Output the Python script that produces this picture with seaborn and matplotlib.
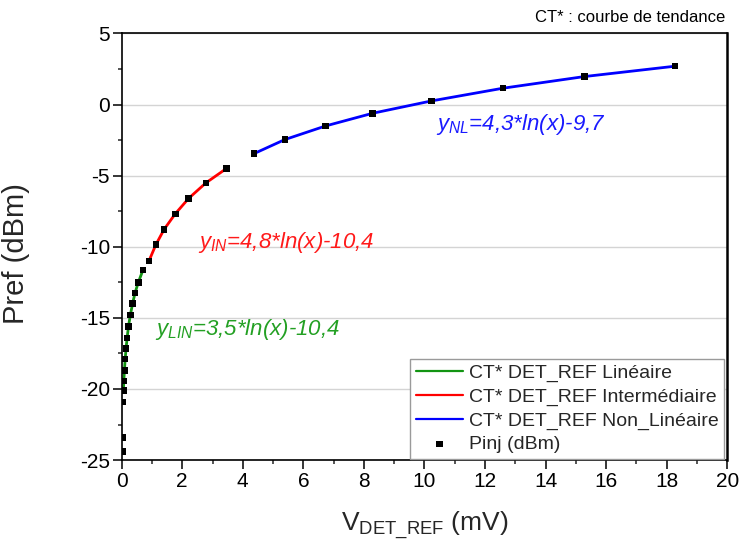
import numpy as np
import pandas as pd
import matplotlib
matplotlib.use("Agg")
import matplotlib.pyplot as plt
from matplotlib.ticker import MultipleLocator
import seaborn as sns

# measured points: V_DET_REF (mV) / Pinj (dBm)
v_det_ref = [0.02, 0.025, 0.04, 0.055, 0.07, 0.09, 0.115, 0.145, 0.18, 0.225,
             0.285, 0.36, 0.44, 0.55, 0.70,
             0.90, 1.13, 1.40, 1.77, 2.21, 2.78, 3.47,
             4.37, 5.39, 6.74, 8.29, 10.24, 12.59, 15.28, 18.28]
p_inj = [-24.4, -23.4, -20.9, -20.1, -19.45, -18.7, -17.9, -17.15, -16.4, -15.6,
         -14.8, -14.0, -13.25, -12.5, -11.65,
         -11.0, -9.85, -8.78, -7.68, -6.6, -5.51, -4.48,
         -3.45, -2.46, -1.5, -0.61, 0.26, 1.15, 1.97, 2.70]
# zone of each point (which trend curve covers it)
zone = ["none"] * 3 + ["lin"] * 12 + ["in"] * 7 + ["nl"] * 8

curve_labels = {"lin": "CT* DET_REF Linéaire",
                "in": "CT* DET_REF Intermédiaire",
                "nl": "CT* DET_REF Non_Linéaire"}
curve_colors = {"lin": "#129412", "in": "#ff0000", "nl": "#0000ff"}
equations = {"lin": "$y_{LIN}$=3,5*ln(x)-10,4",
             "in": "$y_{IN}$=4,8*ln(x)-10,4",
             "nl": "$y_{NL}$=4,3*ln(x)-9,7"}
eq_pos = {"lin": (1.10, -16.2), "in": (2.52, -10.1), "nl": (10.38, -1.8)}
eq_colors = {"lin": "#23a023", "in": "#ff1a1a", "nl": "#1a1aff"}

df = pd.DataFrame({"v": v_det_ref, "p": p_inj, "zone": zone})

sns.set_style("white")
plt.rcParams["font.family"] = ["Liberation Sans", "DejaVu Sans"]
plt.rcParams["mathtext.fontset"] = "custom"
plt.rcParams["mathtext.rm"] = "Liberation Sans"
plt.rcParams["mathtext.it"] = "Liberation Sans:italic"
plt.rcParams["axes.unicode_minus"] = False

fig = plt.figure(figsize=(7.42, 5.49), dpi=100)
ax = fig.add_axes([0.164, 0.162, 0.816, 0.777])

for key in ["lin", "in", "nl"]:
    seg = df[df["zone"] == key]
    sns.lineplot(data=seg, x="v", y="p", color=curve_colors[key], linewidth=2,
                 sort=False, label=curve_labels[key], ax=ax)

sns.scatterplot(data=df, x="v", y="p", marker="s", color="black", s=22,
                edgecolor="none", label="Pinj (dBm)", ax=ax, zorder=5)

for key in ["lin", "in", "nl"]:
    ex, ey = eq_pos[key]
    ax.text(ex, ey, equations[key], color=eq_colors[key], fontsize=16,
            style="italic", va="baseline", ha="left")

ax.set_xlim(0, 20)
ax.set_ylim(-25, 5)
ax.xaxis.set_major_locator(MultipleLocator(2))
ax.xaxis.set_minor_locator(MultipleLocator(1))
ax.yaxis.set_major_locator(MultipleLocator(5))
ax.yaxis.set_minor_locator(MultipleLocator(2.5))
ax.tick_params(which="major", direction="out", length=6.5, width=1.1, pad=2,
               labelsize=15, colors="black", bottom=True, left=True, top=False, right=False)
ax.tick_params(which="minor", direction="out", length=3, width=1.1,
               bottom=True, left=True, top=False, right=False)
ax.yaxis.grid(True, which="major", color="#d4d4d4", linewidth=1)
ax.xaxis.grid(False)
ax.set_axisbelow(True)
for sp in ax.spines.values():
    sp.set_color("black")
    sp.set_linewidth(1.2)
ax.spines["right"].set_linewidth(1.8)

ax.set_xlabel(r"V$_{\mathrm{DET\_REF}}$ (mV)", fontsize=19)
ax.set_ylabel("Pref (dBm)", fontsize=21)
ax.yaxis.set_label_coords(-0.151, 0.483)
ax.xaxis.set_label_coords(0.5, -0.118)

leg = ax.legend(loc="lower right", bbox_to_anchor=(0.995, 0.003), fontsize=14,
                frameon=True, fancybox=False, edgecolor="#9a9a9a", framealpha=1,
                labelspacing=0.3, handlelength=2.4, handletextpad=0.3,
                borderpad=0.3, borderaxespad=0.0, markerscale=1.0)
leg.get_frame().set_linewidth(1.0)
for h in leg.get_lines():
    h.set_linewidth(1.6)

fig.text(0.977, 0.96, "CT* : courbe de tendance", fontsize=12, ha="right",
         va="baseline", color="black")

fig.savefig("out.png", dpi=100)
